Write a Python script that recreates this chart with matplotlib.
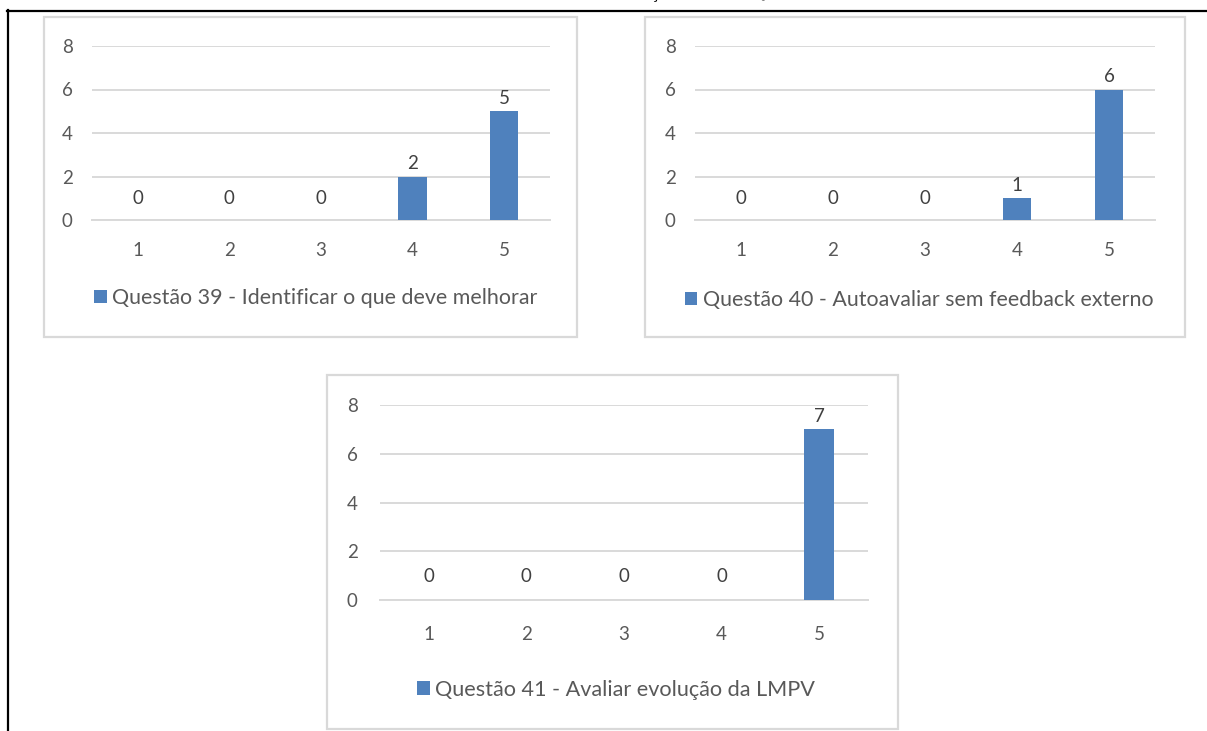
import matplotlib
matplotlib.use("Agg")
import matplotlib.pyplot as plt
from matplotlib.patches import Rectangle
from matplotlib.lines import Line2D

W, H = 1207, 731
DPI = 100

# Data
categories = [1, 2, 3, 4, 5]
q39_values = [0, 0, 0, 2, 5]
q40_values = [0, 0, 0, 1, 6]
q41_values = [0, 0, 0, 0, 7]
q39_label = "Questão 39 - Identificar o que deve melhorar"
q40_label = "Questão 40 - Autoavaliar sem feedback externo"
q41_label = "Questão 41 - Avaliar evolução da LMPV"
y_ticks = [0, 2, 4, 6, 8]
caption_prefix = "Gráfico 20 – Autoavalia"
caption_rest = "ção do aluno – Questões 39 a 41"

BAR = "#4F81BD"
GRID = "#D9D9D9"
TICK = "#595959"
LABEL = "#404040"
FONT = "Lato"

plt.rcParams["font.family"] = [FONT, "DejaVu Sans"]

fig = plt.figure(figsize=(W / DPI, H / DPI), dpi=DPI)
fig.patch.set_facecolor("white")


def px_rect(x0, y0, x1, y1):
    return [x0 / W, 1 - y1 / H, (x1 - x0) / W, (y1 - y0) / H]


def frame(x0, y0, x1, y1):
    fig.patches.append(Rectangle((x0 / W, 1 - y1 / H), (x1 - x0) / W, (y1 - y0) / H,
                                 transform=fig.transFigure, fill=False,
                                 edgecolor=GRID, linewidth=1.6, zorder=0))


def panel(plot_box, values, label, legend_xy, ypad, xpad, zero_off, fs, lfs):
    ax = fig.add_axes(px_rect(*plot_box))
    ax.set_facecolor("none")
    ax.bar(categories, values, width=0.31, color=BAR, zorder=3, label=label)
    ax.set_xlim(0.5, 5.5)
    ax.set_ylim(0, 8)
    ax.set_yticks(y_ticks)
    ax.set_xticks(categories)
    ax.yaxis.grid(True, color=GRID, linewidth=1.4, zorder=0)
    ax.set_axisbelow(True)
    for s in ax.spines.values():
        s.set_visible(False)
    ax.axhline(0, color=GRID, linewidth=1.4, zorder=1, clip_on=False)
    ax.tick_params(axis="both", length=0, colors=TICK, labelsize=fs)
    ax.tick_params(axis="y", pad=ypad)
    ax.tick_params(axis="x", pad=xpad)
    for x, v in zip(categories, values):
        off = zero_off if v == 0 else 3
        ax.annotate(str(v), (x, v), xytext=(0, off), textcoords="offset points",
                    ha="center", va="bottom", color=LABEL, fontsize=fs)
    handle = Rectangle((0, 0), 1, 1, facecolor=BAR, edgecolor="none")
    fig.legend([handle], [label], loc="center",
               bbox_to_anchor=(legend_xy[0] / W, 1 - legend_xy[1] / H),
               frameon=False, fontsize=lfs, labelcolor=TICK,
               handlelength=0.6, handleheight=0.6, handletextpad=0.25,
               borderpad=0, borderaxespad=0)
    return ax


# Panel frames
frame(44, 17, 577, 337)
frame(645, 17, 1185, 337)
frame(327, 375, 898, 729)

panel((92, 46, 550, 220), q39_values, q39_label, (316, 298), 14, 16, 9.5, 13.5, 15.4)
panel((695, 46, 1155, 220), q40_values, q40_label, (919, 300), 14, 16, 9.5, 13.5, 15.4)
panel((380, 405, 868, 600), q41_values, q41_label, (616, 690), 16, 19, 10.5, 13.5, 15.6)

# Outer page border (top and left edges)
fig.add_artist(Line2D([7 / W, 1.0], [1 - 10.5 / H, 1 - 10.5 / H], transform=fig.transFigure,
                      color="black", linewidth=1.6))
fig.add_artist(Line2D([8 / W, 8 / W], [1 - 10 / H, 0], transform=fig.transFigure,
                      color="black", linewidth=1.6))

# Caption line above the page edge; only its descenders fall inside the canvas
cap_kw = dict(family=["Liberation Serif", "DejaVu Serif"], fontsize=12, color="black",
              va="baseline", ha="left")
renderer = fig.canvas.get_renderer()
probe = fig.text(0, 0, caption_prefix, **cap_kw)
prefix_w = probe.get_window_extent(renderer).width
probe.remove()
fig.text((651 - prefix_w) / W, 1 + 1.5 / H, caption_prefix + caption_rest, **cap_kw)

fig.savefig("out.png", dpi=DPI, facecolor="white")
